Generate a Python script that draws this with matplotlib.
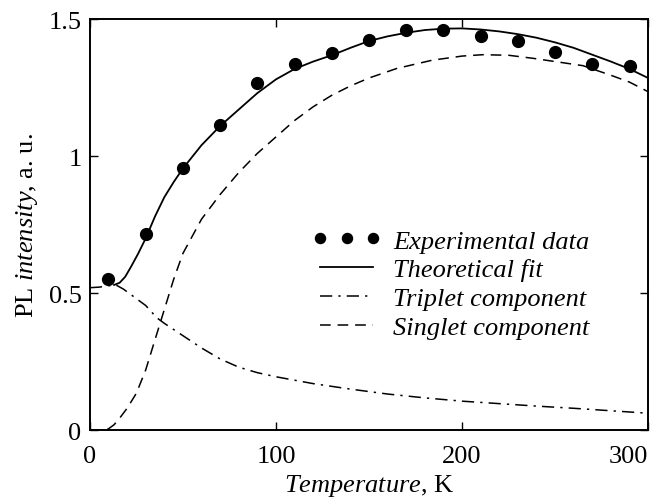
import matplotlib
matplotlib.use("Agg")
import matplotlib.pyplot as plt

plt.rcParams['font.family'] = ['Liberation Serif', 'DejaVu Serif']
plt.rcParams['mathtext.fontset'] = 'custom'
plt.rcParams['mathtext.rm'] = 'Liberation Serif'
plt.rcParams['mathtext.it'] = 'Liberation Serif:italic'

# experimental points
tempExp = [10, 30, 50, 70, 90, 110, 130, 150, 170, 190, 210, 230, 250, 270, 290]
plExp = [0.55, 0.715, 0.955, 1.115, 1.265, 1.335, 1.375, 1.425, 1.46, 1.46,
         1.44, 1.42, 1.38, 1.335, 1.33]

# theoretical fit
tempFit = [13, 16, 19, 22, 26, 30, 35, 40, 45, 50, 60, 70, 80, 90, 100, 110,
           120, 130, 140, 150, 160, 170, 180, 190, 200, 210, 220, 230, 240,
           250, 260, 270, 280, 290, 300]
plFit = [0.53, 0.538, 0.56, 0.595, 0.645, 0.70, 0.78, 0.85, 0.905, 0.955, 1.04,
         1.11, 1.17, 1.23, 1.28, 1.318, 1.345, 1.368, 1.395, 1.42, 1.437, 1.45,
         1.46, 1.465, 1.466, 1.462, 1.455, 1.445, 1.432, 1.415, 1.395, 1.37,
         1.345, 1.318, 1.285]

# triplet component
tempTrip = [0, 5, 10, 14, 18, 22, 26, 30, 36, 40, 50, 60, 70, 80, 90, 100,
            120, 140, 160, 180, 200, 220, 240, 260, 280, 300]
plTrip = [0.52, 0.522, 0.527, 0.53, 0.515, 0.495, 0.475, 0.455, 0.41, 0.39,
          0.345, 0.30, 0.26, 0.23, 0.21, 0.195, 0.17, 0.15, 0.132, 0.118,
          0.106, 0.097, 0.088, 0.08, 0.071, 0.062]

# singlet component
tempSing = [0, 5, 10, 13, 16, 20, 25, 30, 35, 40, 45, 50, 60, 70, 80, 90, 100,
            110, 120, 130, 140, 150, 165, 184, 200, 211, 225, 238, 250, 265,
            280, 290, 300]
plSing = [0.0, 0.0, 0.005, 0.02, 0.044, 0.08, 0.135, 0.22, 0.33, 0.44, 0.55,
          0.645, 0.77, 0.86, 0.94, 1.01, 1.07, 1.13, 1.18, 1.222, 1.256, 1.285,
          1.32, 1.35, 1.365, 1.37, 1.368, 1.357, 1.345, 1.33, 1.295, 1.27,
          1.235]

fig = plt.figure(figsize=(6.56, 5.02), dpi=100)
ax = fig.add_axes([0.137, 0.141, 0.851, 0.819])

ax.plot(tempExp, plExp, 'o', color='black', markersize=8.5, linestyle='none',
        label='Experimental data')
ax.plot(tempFit, plFit, '-', color='black', lw=1.3, label='Theoretical fit')
ax.plot(tempTrip, plTrip, color='black', lw=1.1, dashes=(8, 4, 1.5, 4),
        label='Triplet component')
ax.plot(tempSing, plSing, color='black', lw=1.1, dashes=(7, 4.5),
        label='Singlet component')

ax.set_xlim(0, 300)
ax.set_ylim(0, 1.5)
ax.set_xticks([0, 100, 200, 300])
ax.set_xticklabels(['0', '100', '200', '300'])
ax.get_xticklabels()[-1].set_horizontalalignment('right')
ax.set_yticks([0, 0.5, 1, 1.5])
ax.set_yticklabels(['0', '0.5', '1', '1.5'])
ax.tick_params(direction='in', length=6, width=1, labelsize=19, top=True,
               right=True)
ax.tick_params(axis='x', pad=11)
ax.tick_params(axis='y', pad=6)
for s in ax.spines.values():
    s.set_linewidth(1.4)

ax.set_xlabel(r'$\mathit{Temperature}$, K', fontsize=19, labelpad=3)
ax.set_ylabel(r'PL $\mathit{intensity}$, a. u.', fontsize=19, labelpad=6)

leg = ax.legend(loc='upper left', bbox_to_anchor=(0.38, 0.515), frameon=False,
                prop={'family': 'Liberation Serif', 'style': 'italic', 'size': 19},
                handlelength=2.6, handletextpad=0.45, labelspacing=0.2,
                numpoints=3, markerscale=0.85, borderaxespad=0)

fig.savefig('out.png', dpi=100)
